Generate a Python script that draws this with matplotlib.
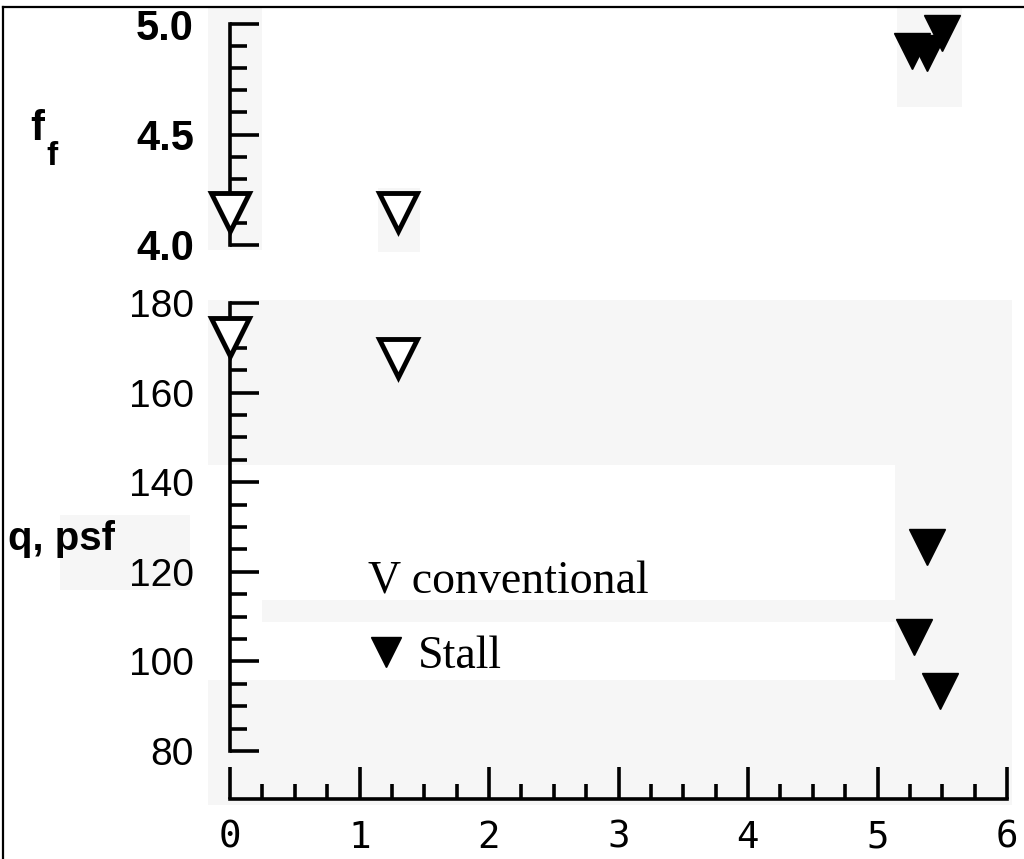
import matplotlib.pyplot as plt
from matplotlib.patches import Rectangle
from matplotlib.lines import Line2D
from matplotlib.ticker import MultipleLocator, FixedLocator

# data
conv_x = [0.0, 1.30]
conv_ff = [4.15, 4.15]
conv_q = [172.5, 167.7]

stall_ff_x = [5.27, 5.38, 5.50]
stall_ff = [4.88, 4.87, 4.96]
stall_q_x = [5.38, 5.28, 5.48]
stall_q = [125.5, 105.4, 93.4]

W, H = 1024, 859
fig = plt.figure(figsize=(W / 100, H / 100), dpi=100)
fig.patch.set_facecolor('white')


def px_rect(x0, y0, x1, y1):
    # pixel box (top-left origin) -> figure fraction rect
    return (x0 / W, 1 - y1 / H, (x1 - x0) / W, (y1 - y0) / H)


# faint grey scan patches behind everything
grey = '#f6f6f6'
for box in [(897, 8, 962, 107), (208, 8, 262, 250), (378, 188, 420, 252),
            (208, 300, 1012, 465), (895, 465, 1012, 805), (208, 680, 895, 805),
            (262, 600, 895, 622), (60, 515, 190, 590)]:
    x, y, w, h = px_rect(*box)
    fig.patches.append(Rectangle((x, y), w, h, transform=fig.transFigure,
                                 facecolor=grey, edgecolor='none', zorder=-10))

# frame of the scanned page
fig.add_artist(Line2D([3 / W, 1], [1 - 7 / H, 1 - 7 / H], color='black', lw=1.6))
fig.add_artist(Line2D([3 / W, 3 / W], [0, 1 - 7 / H], color='black', lw=1.6))

left = 230 / W
width = 777 / W
ax_top = fig.add_axes([left, 1 - 245 / H, width, 221 / H])
ax_bot = fig.add_axes([left, 1 - 799 / H, width, 496 / H])

lab_font = {'family': 'Liberation Sans', 'size': 28}
mono = {'family': 'DejaVu Sans Mono', 'size': 27}

for ax in (ax_top, ax_bot):
    ax.patch.set_visible(False)
    ax.set_xlim(0, 6)
    for s in ('top', 'right'):
        ax.spines[s].set_visible(False)
    ax.spines['left'].set_linewidth(2.6)
    ax.tick_params(axis='y', which='major', direction='in', length=21, width=2.6, pad=26)
    ax.tick_params(axis='y', which='minor', direction='in', length=12, width=2.6)

# top panel: f_f
ax_top.set_ylim(4.0, 5.0)
ax_top.spines['left'].set_bounds(4.0, 5.0)
ax_top.spines['bottom'].set_visible(False)
ax_top.set_xticks([])
ax_top.yaxis.set_minor_locator(MultipleLocator(0.1))
ax_top.set_yticks([4.0, 4.5, 5.0])
ax_top.set_yticklabels(['4.0', '4.5', '5.0'],
                       fontdict={'family': 'Liberation Sans', 'size': 30, 'weight': 'bold'})

ax_top.plot(conv_x, conv_ff, linestyle='none', marker='v', ms=27, mew=3.5,
            mfc='white', mec='black', clip_on=False, zorder=5)
ax_top.plot(stall_ff_x, stall_ff, linestyle='none', marker='v', ms=26,
            mfc='black', mec='black', clip_on=False, zorder=5)

# bottom panel: q
ax_bot.set_ylim(69.3, 180)
ax_bot.spines['left'].set_bounds(80, 180)
ax_bot.spines['bottom'].set_linewidth(2.6)
ax_bot.set_yticks([80, 100, 120, 140, 160, 180])
ax_bot.set_yticklabels(['80', '100', '120', '140', '160', '180'], fontdict=lab_font)
ax_bot.yaxis.set_minor_locator(FixedLocator(list(range(85, 180, 5))))
ax_bot.set_xticks(range(7))
ax_bot.set_xticklabels([str(i) for i in range(7)], fontdict=mono)
ax_bot.xaxis.set_minor_locator(MultipleLocator(0.25))
ax_bot.tick_params(axis='x', which='major', direction='in', length=23, width=2.6, pad=15)
ax_bot.tick_params(axis='x', which='minor', direction='in', length=11, width=2.6)

ax_bot.plot(conv_x, conv_q, linestyle='none', marker='v', ms=27, mew=3.5,
            mfc='white', mec='black', clip_on=False, zorder=5)
ax_bot.plot(stall_q_x, stall_q, linestyle='none', marker='v', ms=26,
            mfc='black', mec='black', clip_on=False, zorder=5)

# axis titles
fig.text(30 / W, 1 - 140 / H, 'f', fontsize=30, fontweight='bold', family='Liberation Sans')
fig.text(46 / W, 1 - 165 / H, 'f', fontsize=24, fontweight='bold', family='Liberation Sans')
fig.text(8 / W, 1 - 550 / H, 'q, psf', fontsize=29, fontweight='bold', family='Liberation Sans')

# legend block
fig.text(368 / W, 1 - 593 / H, 'V conventional', fontsize=33, family='Liberation Serif')
fig.add_artist(Line2D([386 / W], [1 - 652 / H], marker='v', ms=22, color='black',
                      linestyle='none', transform=fig.transFigure))
fig.text(418 / W, 1 - 668 / H, 'Stall', fontsize=33, family='Liberation Serif')

fig.savefig('out.png', dpi=100)
